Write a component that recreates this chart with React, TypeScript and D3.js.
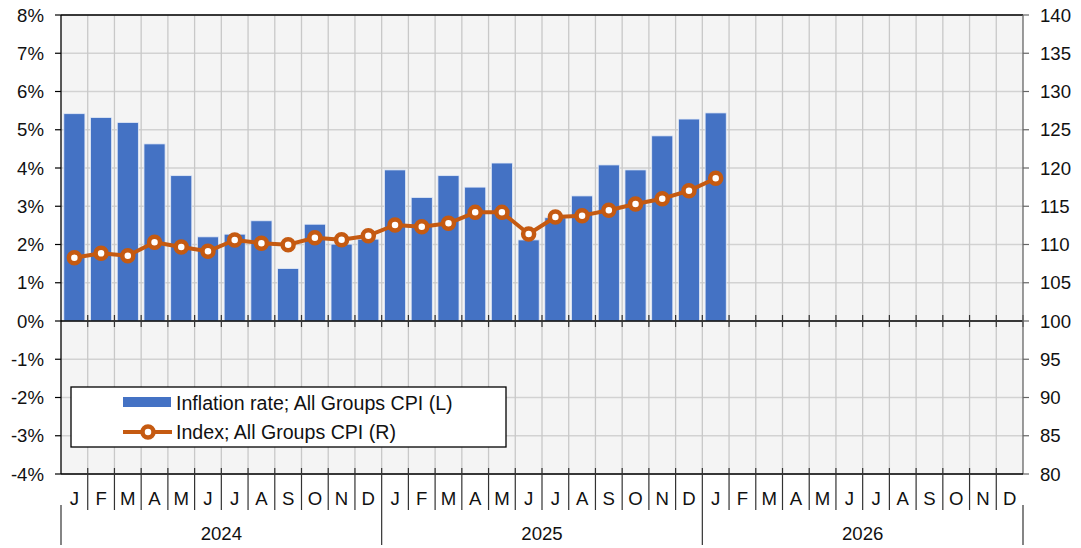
import React from 'react';
import * as d3 from 'd3';

const monthLetters = ['J', 'F', 'M', 'A', 'M', 'J', 'J', 'A', 'S', 'O', 'N', 'D'];
const years = ['2024', '2025', '2026'];

// inflation rate, % (left axis), Jan 2024 - Jan 2026
const inflation = [
  5.42, 5.32, 5.19, 4.63, 3.8, 2.2, 2.27, 2.62, 1.37, 2.53, 2.01, 2.14,
  3.95, 3.23, 3.8, 3.5, 4.13, 2.12, 2.7, 3.27, 4.08, 3.95, 4.84, 5.28,
  5.44,
];

// CPI index (right axis)
const cpiIndex = [
  108.27, 108.85, 108.54, 110.29, 109.67, 109.11, 110.59, 110.16, 109.98, 110.89, 110.63, 111.15,
  112.55, 112.33, 112.77, 114.2, 114.2, 111.37, 113.6, 113.77, 114.47, 115.3, 115.99, 117.03,
  118.65,
];

const leftTicks = [-4, -3, -2, -1, 0, 1, 2, 3, 4, 5, 6, 7, 8];
const rightTicks = [80, 85, 90, 95, 100, 105, 110, 115, 120, 125, 130, 135, 140];

const W = 1081;
const H = 548;
const m = { left: 61, right: 1023, top: 15, bottom: 474 };
const blue = '#4472C4';
const orange = '#C55A11';
const font = '"Liberation Sans", Arial, sans-serif';
const fs = 18.6;

export default function App() {
  const months = d3.range(years.length * 12);
  const x = d3.scaleBand<number>().domain(months).range([m.left, m.right]).paddingInner(0.21).paddingOuter(0.105);
  const step = x.step();
  const edge = (i: number) => m.left + i * step;

  const yL = d3.scaleLinear().domain([-4, 8]).range([m.bottom, m.top]);
  const yR = d3.scaleLinear().domain([80, 140]).range([m.bottom, m.top]);

  const line = d3.line<number>()
    .x((_, i) => x(i)! + x.bandwidth() / 2)
    .y(d => yR(d));

  const zeroY = yL(0);

  return (
    <svg width={W} height={H} style={{ position: 'absolute', left: 0, top: 0, fontFamily: font }}>
      <rect x={0} y={0} width={W} height={H} fill="#fff" />
      <rect x={m.left} y={m.top} width={m.right - m.left} height={m.bottom - m.top} fill="#f4f4f4" />

      {/* gridlines */}
      {leftTicks.map(t => (
        <line key={'h' + t} x1={m.left} x2={m.right} y1={yL(t)} y2={yL(t)} stroke="#d2d2d2" strokeWidth={1.5} />
      ))}
      {d3.range(1, months.length).map(i => (
        <line key={'v' + i} x1={edge(i)} x2={edge(i)} y1={m.top} y2={m.bottom} stroke="#c8c8c8" strokeWidth={1.3} />
      ))}

      {/* bars */}
      {inflation.map((v, i) => (
        <rect key={'b' + i} x={x(i)} y={yL(Math.max(0, v))} width={x.bandwidth()}
          height={Math.abs(yL(v) - zeroY)} fill={blue} stroke="#e4ebf7" strokeWidth={0.8} />
      ))}

      {/* zero line with ticks */}
      <line x1={m.left} x2={m.right} y1={zeroY} y2={zeroY} stroke="#000" strokeWidth={1.3} />
      {d3.range(1, months.length + 1).map(i => (
        <line key={'zt' + i} x1={edge(i)} x2={edge(i)} y1={zeroY - 6} y2={zeroY + 6} stroke="#333" strokeWidth={1.2} />
      ))}

      {/* index line */}
      <path d={line(cpiIndex) || ''} fill="none" stroke={orange} strokeWidth={4} strokeLinejoin="round" />
      {cpiIndex.map((v, i) => (
        <circle key={'c' + i} cx={x(i)! + x.bandwidth() / 2} cy={yR(v)} r={5.5} fill="#fff" stroke={orange} strokeWidth={4.5} />
      ))}

      {/* frame */}
      <line x1={m.left} x2={m.right} y1={m.top} y2={m.top} stroke="#000" strokeWidth={1.3} />
      <line x1={m.left} x2={m.left} y1={m.top} y2={m.bottom} stroke="#000" strokeWidth={1.3} />
      <line x1={m.right} x2={m.right} y1={m.top} y2={m.bottom} stroke="#666" strokeWidth={1.3} />
      <line x1={m.left} x2={m.right} y1={m.bottom} y2={m.bottom} stroke="#000" strokeWidth={1.3} />

      {/* left axis */}
      {leftTicks.map(t => (
        <g key={'lt' + t}>
          <line x1={m.left - 6} x2={m.left} y1={yL(t)} y2={yL(t)} stroke="#000" strokeWidth={1.2} />
          <text x={44} y={yL(t)} dy="0.35em" textAnchor="end" fontSize={fs} fill="#111">{t}%</text>
        </g>
      ))}

      {/* right axis */}
      {rightTicks.map(t => (
        <g key={'rt' + t}>
          <line x1={m.right} x2={m.right + 6} y1={yR(t)} y2={yR(t)} stroke="#666" strokeWidth={1.2} />
          <text x={1040} y={yR(t)} dy="0.35em" textAnchor="start" fontSize={fs} fill="#111">{t}</text>
        </g>
      ))}

      {/* month ticks and labels */}
      {d3.range(1, months.length).map(i => (
        <line key={'mt' + i} x1={edge(i)} x2={edge(i)} y1={m.bottom - 6} y2={i % 12 === 0 ? 545 : 510}
          stroke="#333" strokeWidth={1.2} />
      ))}
      <line x1={m.left} x2={m.left} y1={505} y2={545} stroke="#333" strokeWidth={1.2} />
      <line x1={m.right} x2={m.right} y1={505} y2={545} stroke="#333" strokeWidth={1.2} />
      {months.map(i => (
        <text key={'ml' + i} x={x(i)! + x.bandwidth() / 2} y={498} dy="0.35em" textAnchor="middle" fontSize={fs} fill="#111">
          {monthLetters[i % 12]}
        </text>
      ))}
      {years.map((yr, k) => (
        <text key={yr} x={edge(k * 12 + 6)} y={533} dy="0.35em" textAnchor="middle" fontSize={fs} fill="#111">{yr}</text>
      ))}

      {/* legend */}
      <g>
        <rect x={71} y={387} width={435} height={60} fill="#fff" stroke="#000" strokeWidth={1.3} />
        <rect x={123} y={397} width={48} height={10} fill={blue} />
        <text x={176} y={403} dy="0.35em" fontSize={19.6} fill="#111">Inflation rate; All Groups CPI (L)</text>
        <line x1={123} x2={172} y1={432} y2={432} stroke={orange} strokeWidth={4} />
        <circle cx={148} cy={432} r={5.5} fill="#fff" stroke={orange} strokeWidth={4.5} />
        <text x={176} y={432} dy="0.35em" fontSize={19.6} fill="#111">Index; All Groups CPI (R)</text>
      </g>
    </svg>
  );
}
